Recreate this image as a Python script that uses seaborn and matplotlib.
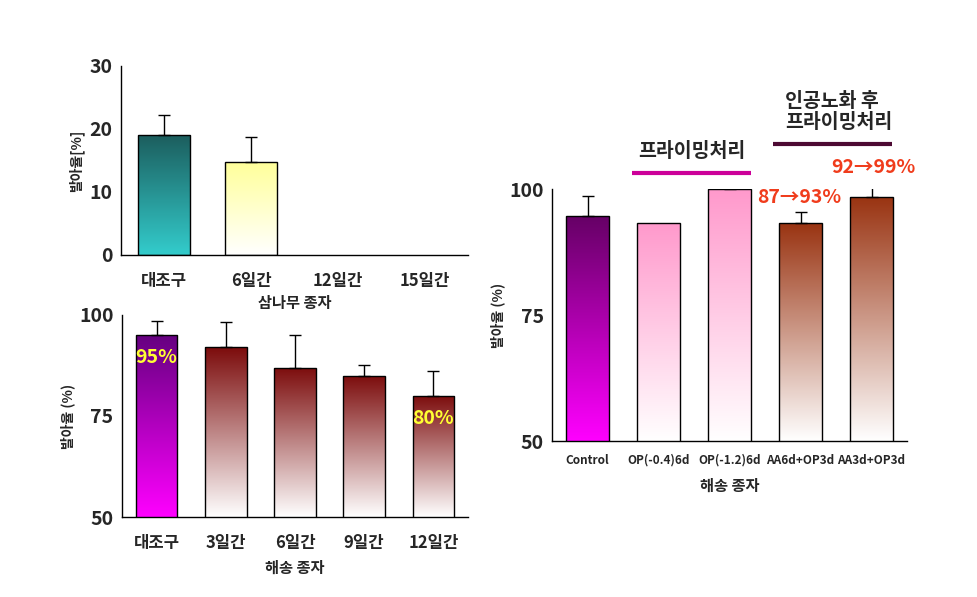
import numpy as np
import pandas as pd
import matplotlib
matplotlib.use("Agg")
import matplotlib.pyplot as plt
import matplotlib.colors as mcolors
import seaborn as sns

sns.set_style("white")
plt.rcParams['font.family'] = ['Noto Sans CJK KR', 'DejaVu Sans']
TICKFAM = ['Noto Sans CJK KR', 'DejaVu Sans']

# ---- data ----
top_cats = ["대조구", "6일간", "12일간", "15일간"]
top_vals = [19.0, 14.8, 0.0, 0.0]
top_err = [3.2, 4.0, 0.0, 0.0]

bot_cats = ["대조구", "3일간", "6일간", "9일간", "12일간"]
bot_vals = [95.0, 92.0, 87.0, 85.0, 80.0]
bot_err = [3.5, 6.2, 8.0, 2.5, 6.2]

right_cats = ["Control", "OP(-0.4)6d", "OP(-1.2)6d", "AA6d+OP3d", "AA3d+OP3d"]
right_vals = [94.6, 93.4, 100.0, 93.4, 98.5]
right_err = [4.0, 0.0, 0.2, 2.1, 2.0]

top_colors = [("#1c5e5e", "#33cccc"), ("#ffff99", "#ffffff"), ("#ffffff", "#ffffff"), ("#ffffff", "#ffffff")]
bot_colors = [("#660080", "#ff00ff")] + [("#7c0c0c", "#ffffff")] * 4
right_colors = [("#660066", "#ff00ff"), ("#ff99cc", "#ffffff"), ("#ff99cc", "#ffffff"),
                ("#993311", "#ffffff"), ("#993311", "#ffffff")]

fig = plt.figure(figsize=(9.77, 5.97), dpi=100)

def draw(ax, cats, vals, errs, colors, ylim, yticks, ylabel, xlabel, ylabel_pad, xlabel_pad,
         xfs=12, xpad=12):
    df = pd.DataFrame({"cat": cats, "val": vals})
    sns.barplot(data=df, x="cat", y="val", ax=ax, width=0.6, errorbar=None,
                color="white", order=cats)
    ybot = ylim[0]
    for i, (p, v) in enumerate(zip(ax.patches, vals)):
        if v <= 0:
            p.set_visible(False)
            continue
        top, bottom = colors[i]
        ct = np.array(mcolors.to_rgba(top))
        cb = np.array(mcolors.to_rgba(bottom))
        t = np.linspace(0, 1, 256)[:, None]
        grad = (cb * (1 - t) + ct * t)[:, None, :]
        x0 = p.get_x(); w = p.get_width()
        im = ax.imshow(grad, origin="lower", aspect="auto",
                       extent=[x0, x0 + w, ybot, v], zorder=1,
                       interpolation="bilinear")
        im.set_clip_path(p)
        p.set_facecolor("none")
        p.set_edgecolor("black")
        p.set_linewidth(1.0)
        p.set_zorder(2)
    xs = np.arange(len(cats))
    for x, v, e in zip(xs, vals, errs):
        if v > 0 and e > 0:
            ax.errorbar([x], [v], yerr=[[0], [e]], fmt="none", ecolor="black",
                        elinewidth=1.0, capsize=4, capthick=1.0, zorder=3)
    ax.set_xlim(-0.5, len(cats) - 0.5)
    ax.set_ylim(*ylim)
    ax.set_yticks(yticks)
    ax.set_xticks(np.arange(len(cats) + 1) - 0.5, minor=True)
    ax.tick_params(axis="x", which="major", length=0, pad=xpad)
    ax.tick_params(axis="x", which="minor", length=5, direction="in", width=1, color="black")
    ax.tick_params(axis="y", length=5, direction="in", width=1, pad=6, color="black")
    for lab in ax.get_xticklabels():
        lab.set_fontweight("bold"); lab.set_family(TICKFAM); lab.set_fontsize(xfs)
    for lab in ax.get_yticklabels():
        lab.set_fontweight("bold"); lab.set_family(TICKFAM); lab.set_fontsize(14)
    ax.spines["top"].set_visible(False)
    ax.spines["right"].set_visible(False)
    for s in ["left", "bottom"]:
        ax.spines[s].set_color("black")
        ax.spines[s].set_linewidth(1.0)
    ax.set_ylabel(ylabel, fontsize=10, fontweight="bold", labelpad=ylabel_pad)
    ax.set_xlabel(xlabel, fontsize=11, fontweight="bold", labelpad=xlabel_pad)

ax1 = fig.add_axes([0.1238, 0.5729, 0.3552, 0.3166])
draw(ax1, top_cats, top_vals, top_err, top_colors, (0, 30), [0, 10, 20, 30],
     "발아율[%]", "삼나무 종자", 4, 4)

ax2 = fig.add_axes([0.1248, 0.1340, 0.3542, 0.3384])
draw(ax2, bot_cats, bot_vals, bot_err, bot_colors, (50, 100), [50, 75, 100],
     "발아율 (%)", "해송 종자", 3, 6)
ax2.text(0, 89.4, "95%", color="#ffff33", fontsize=14, fontweight="bold",
         family=TICKFAM, ha="center", va="center", zorder=4)
ax2.text(4, 74.5, "80%", color="#ffff33", fontsize=14, fontweight="bold",
         family=TICKFAM, ha="center", va="center", zorder=4)

ax3 = fig.add_axes([0.565, 0.2613, 0.3634, 0.4216])
draw(ax3, right_cats, right_vals, right_err, right_colors, (50, 100), [50, 75, 100],
     "발아율 (%)", "해송 종자", 3, 8, xfs=8.5, xpad=9)

ax3.text(1.47, 107.6, "프라이밍처리", fontsize=14, fontweight="bold", ha="center",
         va="center", clip_on=False)
ax3.plot([0.63, 2.30], [103.2, 103.2], color="#cc0099", lw=3, clip_on=False,
         solid_capstyle="butt")
ax3.text(2.78, 115.4, "인공노화 후\n프라이밍처리", fontsize=14, fontweight="bold",
         ha="left", va="center", clip_on=False, linespacing=1.1)
ax3.plot([2.61, 4.29], [109.0, 109.0], color="#4d0a33", lw=3, clip_on=False,
         solid_capstyle="butt")
ax3.text(2.98, 98.3, "87→93%", fontsize=14, color="#f03c1c", ha="center",
         va="center", clip_on=False, fontweight="bold")
ax3.text(4.02, 104.3, "92→99%", fontsize=14, color="#f03c1c", ha="center",
         va="center", clip_on=False, fontweight="bold")

fig.savefig("out.png", dpi=100)
